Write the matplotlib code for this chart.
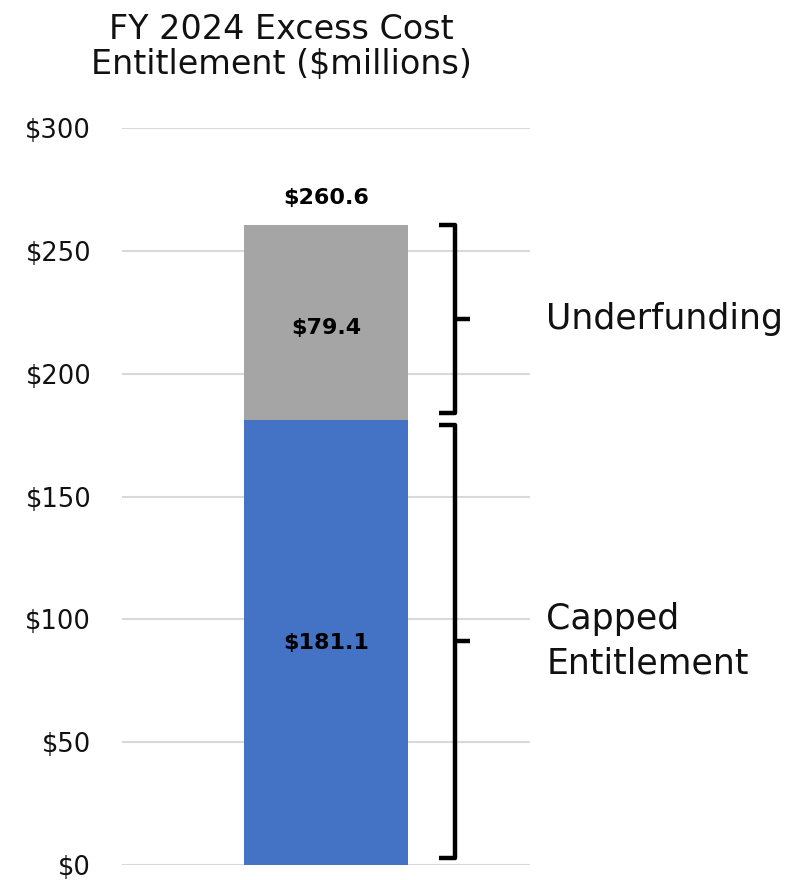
import matplotlib.pyplot as plt
import matplotlib.transforms as mtransforms

plt.rcParams['font.family'] = ['DejaVu Sans']

categories = ['FY 2024']
capped = [181.1]
underfunding = [79.4]
totals = [260.6]
yticks = [0, 50, 100, 150, 200, 250, 300]
ytick_labels = ['$0', '$50', '$100', '$150', '$200', '$250', '$300']

fig = plt.figure(figsize=(7.96, 8.8), dpi=100)
ax = fig.add_axes([0.153, 0.017, 0.513, 0.8375])

# stacked bar
ax.bar(categories, capped, width=0.4, color='#4472C4', zorder=2)
ax.bar(categories, underfunding, bottom=capped, width=0.4, color='#A5A5A5', zorder=2)

for c, cap, und, tot in zip(categories, capped, underfunding, totals):
    ax.text(c, cap / 2, f'${cap:.1f}', ha='center', va='center',
            fontsize=16, fontweight='bold', color='black')
    ax.text(c, cap + und / 2 - 2, f'${und:.1f}', ha='center', va='center',
            fontsize=16, fontweight='bold', color='black')
    ax.text(c, tot + 7, f'${tot:.1f}', ha='center', va='bottom',
            fontsize=16, fontweight='bold', color='black')

ax.set_xlim(-0.5, 0.5)
ax.set_ylim(0, 300)
ax.set_yticks(yticks)
ax.set_yticklabels(ytick_labels, fontsize=18.5, color='#111111')
ax.tick_params(axis='y', length=0, pad=22)
ax.set_xticks([])
ax.grid(axis='y', color='#D9D9D9', linewidth=1.5, zorder=0)
for s in ax.spines.values():
    s.set_visible(False)

# brackets (x in axes fraction, y in data)
trans = mtransforms.blended_transform_factory(ax.transAxes, ax.transData)

def bracket(y0, y1, label):
    xv, xh, xt = 0.816, 0.776, 0.853
    ym = (y0 + y1) / 2
    ax.plot([xh, xv, xv, xh], [y1, y1, y0, y0], transform=trans, color='black',
            lw=3.2, solid_joinstyle='round', solid_capstyle='butt', clip_on=False)
    ax.plot([xv, xt], [ym, ym], transform=trans, color='black', lw=3.2,
            solid_capstyle='butt', clip_on=False)
    ax.text(1.04, ym, label, transform=trans, ha='left', va='center',
            fontsize=25, color='#111111', linespacing=1.4)

bracket(3, capped[0] - 2, 'Capped\nEntitlement')
bracket(capped[0] + 3, totals[0], 'Underfunding')

fig.text(0.354, 1 - 39 / 880, 'FY 2024 Excess Cost', ha='center', va='baseline',
         fontsize=24, color='#111111')
fig.text(0.354, 1 - 74 / 880, 'Entitlement ($millions)', ha='center', va='baseline',
         fontsize=24, color='#111111')

fig.savefig('out.png', dpi=100)
